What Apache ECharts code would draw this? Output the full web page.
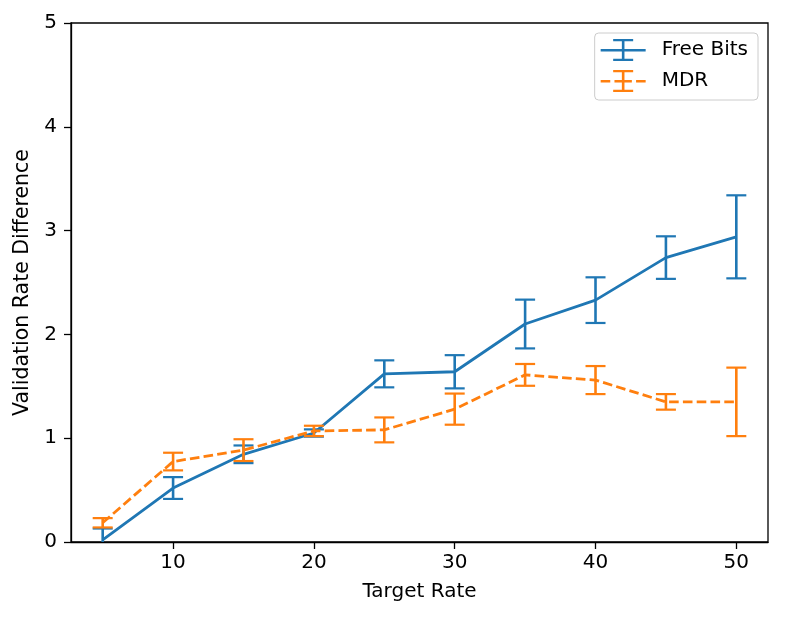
<!DOCTYPE html>
<html>
<head>
<meta charset="utf-8">
<script src="https://cdn.jsdelivr.net/npm/echarts@6/dist/echarts.min.js"></script>
<style>
  html, body { margin: 0; padding: 0; background: #fff; }
  #main { width: 792px; height: 621px; }
</style>
</head>
<body>
<div id="main"></div>
<script>
// 数据
const targetRate = [5, 10, 15, 20, 25, 30, 35, 40, 45, 50];
const freeBitsMean = [0.02, 0.52, 0.845, 1.05, 1.62, 1.64, 2.10, 2.33, 2.74, 2.94];
const freeBitsErr  = [0.11, 0.105, 0.085, 0.035, 0.13, 0.16, 0.235, 0.22, 0.205, 0.40];
const mdrMean = [0.185, 0.775, 0.885, 1.07, 1.08, 1.28, 1.61, 1.56, 1.35, 1.35];
const mdrErr  = [0.045, 0.085, 0.105, 0.05, 0.12, 0.15, 0.105, 0.135, 0.075, 0.33];
const xTicks = [10, 20, 30, 40, 50];

const BLUE = '#1f77b4', ORANGE = '#ff7f0e';
const FONT = 'DejaVu Sans';

// 误差棒：[x, 下限, 上限]
function errData(mean, err) {
  return targetRate.map((x, k) => [x, mean[k] - err[k], mean[k] + err[k]]);
}
function errSeries(name, mean, err, color) {
  return {
    name: name,
    type: 'custom',
    clip: true,
    data: errData(mean, err),
    encode: { x: 0, y: [1, 2] },
    renderItem: function (params, api) {
      const lo = api.coord([api.value(0), api.value(1)]);
      const hi = api.coord([api.value(0), api.value(2)]);
      const cap = 10;
      const st = { stroke: color, lineWidth: 2.6 };
      return {
        type: 'group',
        children: [
          { type: 'line', shape: { x1: lo[0], y1: lo[1], x2: hi[0], y2: hi[1] }, style: st },
          { type: 'line', shape: { x1: lo[0] - cap, y1: lo[1], x2: lo[0] + cap, y2: lo[1] }, style: { stroke: color, lineWidth: 2.2 } },
          { type: 'line', shape: { x1: hi[0] - cap, y1: hi[1], x2: hi[0] + cap, y2: hi[1] }, style: { stroke: color, lineWidth: 2.2 } }
        ]
      };
    },
    z: 3
  };
}

// 图例图标（线 + 误差棒）
const iconSolid = 'path://M0 10H45V12.6H0Z M21.2 0H23.8V22H21.2Z M12.5 0H32.5V2.2H12.5Z M12.5 19.8H32.5V22H12.5Z';
const iconDash = 'path://M0 10H9.6V12.6H0Z M13.8 10H21.2V12.6H13.8Z M23.8 10H31.2V12.6H23.8Z M35.4 10H45V12.6H35.4Z M21.2 0H23.8V22H21.2Z M12.5 0H32.5V2.2H12.5Z M12.5 19.8H32.5V22H12.5Z';

const chart = echarts.init(document.getElementById('main'));
const option = {
  animation: false,
  backgroundColor: '#fff',
  textStyle: { fontFamily: FONT },
  grid: {
    left: 71, right: 24, top: 23, bottom: 79,
    show: true, borderColor: '#000', borderWidth: 1.3, backgroundColor: 'transparent'
  },
  legend: {
    orient: 'vertical',
    right: 34, top: 33,
    padding: [6, 10, 8, 6],
    itemWidth: 45, itemHeight: 22, itemGap: 9,
    backgroundColor: '#fff',
    borderColor: '#cccccc', borderWidth: 1, borderRadius: 4,
    textStyle: { fontFamily: FONT, fontSize: 20, color: '#000', padding: [0, 0, 0, 11] },
    data: [
      { name: 'Free Bits', icon: iconSolid, itemStyle: { color: BLUE } },
      { name: 'MDR', icon: iconDash, itemStyle: { color: ORANGE } }
    ]
  },
  xAxis: {
    type: 'value',
    min: 2.75, max: 52.25,
    name: 'Target Rate',
    nameLocation: 'middle', nameGap: 40,
    nameTextStyle: { fontFamily: FONT, fontSize: 20, color: '#000' },
    axisLine: { lineStyle: { color: '#000', width: 1.3 } },
    axisTick: { inside: false, length: 7, customValues: xTicks, lineStyle: { color: '#000', width: 1.3 } },
    axisLabel: { customValues: xTicks, margin: 11, fontFamily: FONT, fontSize: 20, color: '#000' },
    splitLine: { show: false }
  },
  yAxis: {
    type: 'value',
    min: 0, max: 5, interval: 1,
    name: 'Validation Rate Difference',
    nameLocation: 'middle', nameGap: 38,
    nameTextStyle: { fontFamily: FONT, fontSize: 20.5, color: '#000' },
    axisLine: { show: true, lineStyle: { color: '#000', width: 1.3 } },
    axisTick: { show: true, inside: false, length: 7, lineStyle: { color: '#000', width: 1.3 } },
    axisLabel: { margin: 14, fontFamily: FONT, fontSize: 20, color: '#000' },
    splitLine: { show: false }
  },
  series: [
    {
      name: 'Free Bits', type: 'line',
      data: targetRate.map((x, k) => [x, freeBitsMean[k]]),
      showSymbol: false, symbol: 'none', color: BLUE,
      lineStyle: { color: BLUE, width: 2.8 }, z: 2
    },
    errSeries('Free Bits', freeBitsMean, freeBitsErr, BLUE),
    {
      name: 'MDR', type: 'line',
      data: targetRate.map((x, k) => [x, mdrMean[k]]),
      showSymbol: false, symbol: 'none', color: ORANGE,
      lineStyle: { color: ORANGE, width: 2.8, type: [9.6, 4.2] }, z: 4
    },
    Object.assign(errSeries('MDR', mdrMean, mdrErr, ORANGE), { z: 5 })
  ]
};
chart.setOption(option);
</script>
</body>
</html>
